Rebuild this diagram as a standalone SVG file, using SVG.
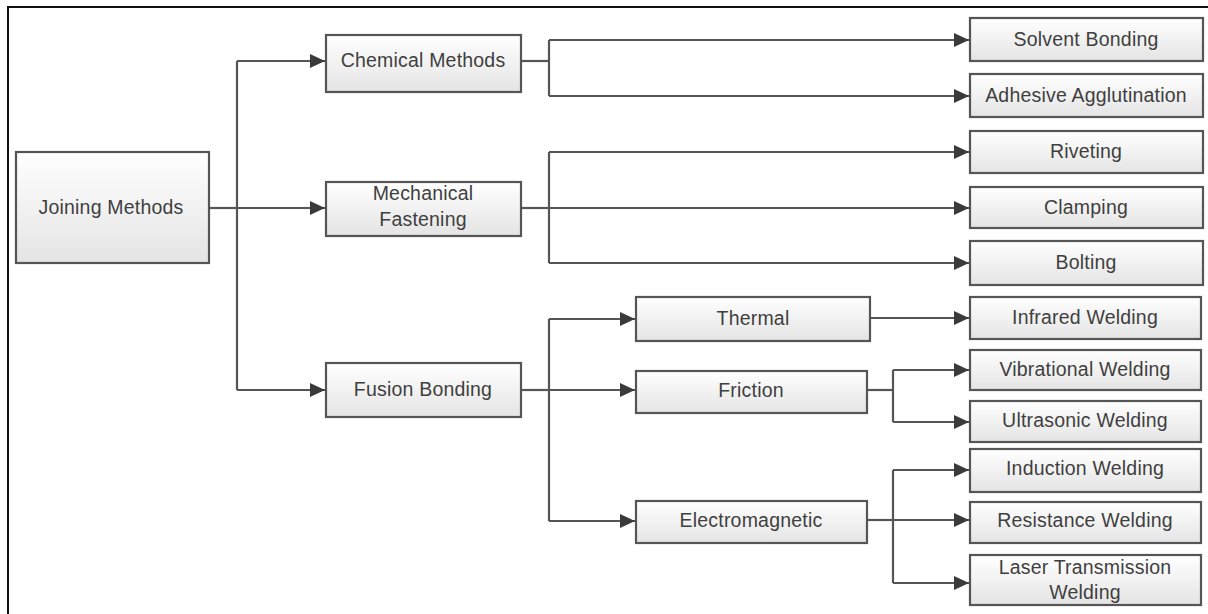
<svg xmlns="http://www.w3.org/2000/svg" width="1208" height="614" viewBox="0 0 1208 614">
<defs>
<linearGradient id="g" x1="0" y1="0" x2="0" y2="1">
<stop offset="0" stop-color="#ffffff"/>
<stop offset="1" stop-color="#e4e4e4"/>
</linearGradient>
<marker id="ar" markerWidth="16" markerHeight="14" refX="15" refY="7" orient="auto" markerUnits="userSpaceOnUse">
<path d="M0,0 L15,7 L0,14 Z" fill="#3a3a3a"/>
</marker>
</defs>
<style>
.box{fill:url(#g);stroke:#555555;stroke-width:2.2}
.t{font-family:"Liberation Sans",Arial,sans-serif;font-size:19.5px;letter-spacing:0.2px;fill:#3f3f3f;text-anchor:middle}
.c{fill:none;stroke:#555555;stroke-width:2.2}
.a{marker-end:url(#ar)}
</style>
<rect x="0" y="0" width="1208" height="614" fill="#ffffff"/>
<path d="M8,614 L8,7 L1208,7" fill="none" stroke="#111" stroke-width="2"/>
<g id="connectors">
<path class="c" d="M209,208 L237,208"/>
<path class="c" d="M237,390 L237,61"/>
<path class="c a" d="M237,61 L325,61"/>
<path class="c a" d="M237,208 L325,208"/>
<path class="c a" d="M237,390 L325,390"/>
<path class="c" d="M521,61 L549,61"/>
<path class="c" d="M549,40 L549,96"/>
<path class="c a" d="M549,40 L969,40"/>
<path class="c a" d="M549,96 L969,96"/>
<path class="c" d="M521,208 L549,208"/>
<path class="c" d="M549,152 L549,263"/>
<path class="c a" d="M549,152 L969,152"/>
<path class="c a" d="M549,208 L969,208"/>
<path class="c a" d="M549,263 L969,263"/>
<path class="c" d="M521,390 L549,390"/>
<path class="c" d="M549,319 L549,521"/>
<path class="c a" d="M549,319 L635,319"/>
<path class="c a" d="M549,390 L635,390"/>
<path class="c a" d="M549,521 L635,521"/>
<path class="c a" d="M870,318 L969,318"/>
<path class="c" d="M867,390 L893,390"/>
<path class="c" d="M893,370 L893,422"/>
<path class="c a" d="M893,370 L969,370"/>
<path class="c a" d="M893,422 L969,422"/>
<path class="c" d="M867,520 L893,520"/>
<path class="c" d="M893,470 L893,583"/>
<path class="c a" d="M893,470 L969,470"/>
<path class="c a" d="M893,520 L969,520"/>
<path class="c a" d="M893,583 L969,583"/>
</g>
<g id="joining"><rect class="box" x="16" y="152" width="193" height="111"/><text class="t" x="111" y="214">Joining Methods</text></g>
<g id="chemical"><rect class="box" x="326" y="35" width="195" height="57"/><text class="t" x="423" y="67">Chemical Methods</text></g>
<g id="mechanical"><rect class="box" x="326" y="182" width="195" height="54"/><text class="t" x="423" y="200">Mechanical</text><text class="t" x="423" y="226">Fastening</text></g>
<g id="fusion"><rect class="box" x="326" y="363" width="195" height="54"/><text class="t" x="423" y="396">Fusion Bonding</text></g>
<g id="thermal"><rect class="box" x="636" y="297" width="234" height="44"/><text class="t" x="753" y="325">Thermal</text></g>
<g id="friction"><rect class="box" x="636" y="371" width="231" height="42"/><text class="t" x="751" y="397">Friction</text></g>
<g id="electromagnetic"><rect class="box" x="636" y="501" width="231" height="42"/><text class="t" x="751" y="527">Electromagnetic</text></g>
<g id="solvent"><rect class="box" x="970" y="18" width="233" height="43"/><text class="t" x="1086" y="46">Solvent Bonding</text></g>
<g id="adhesive"><rect class="box" x="970" y="74" width="233" height="43"/><text class="t" x="1086" y="102">Adhesive Agglutination</text></g>
<g id="riveting"><rect class="box" x="970" y="131" width="233" height="42"/><text class="t" x="1086" y="158">Riveting</text></g>
<g id="clamping"><rect class="box" x="970" y="187" width="233" height="41"/><text class="t" x="1086" y="214">Clamping</text></g>
<g id="bolting"><rect class="box" x="970" y="241" width="233" height="44"/><text class="t" x="1086" y="269">Bolting</text></g>
<g id="infrared"><rect class="box" x="970" y="297" width="231" height="42"/><text class="t" x="1085" y="324">Infrared Welding</text></g>
<g id="vibrational"><rect class="box" x="970" y="350" width="231" height="40"/><text class="t" x="1085" y="376">Vibrational Welding</text></g>
<g id="ultrasonic"><rect class="box" x="970" y="401" width="231" height="41"/><text class="t" x="1085" y="427">Ultrasonic Welding</text></g>
<g id="induction"><rect class="box" x="970" y="449" width="231" height="43"/><text class="t" x="1085" y="475">Induction Welding</text></g>
<g id="resistance"><rect class="box" x="970" y="502" width="231" height="41"/><text class="t" x="1085" y="527">Resistance Welding</text></g>
<g id="laser"><rect class="box" x="970" y="555" width="231" height="50"/><text class="t" x="1085" y="574">Laser Transmission</text><text class="t" x="1085" y="599">Welding</text></g>
</svg>
